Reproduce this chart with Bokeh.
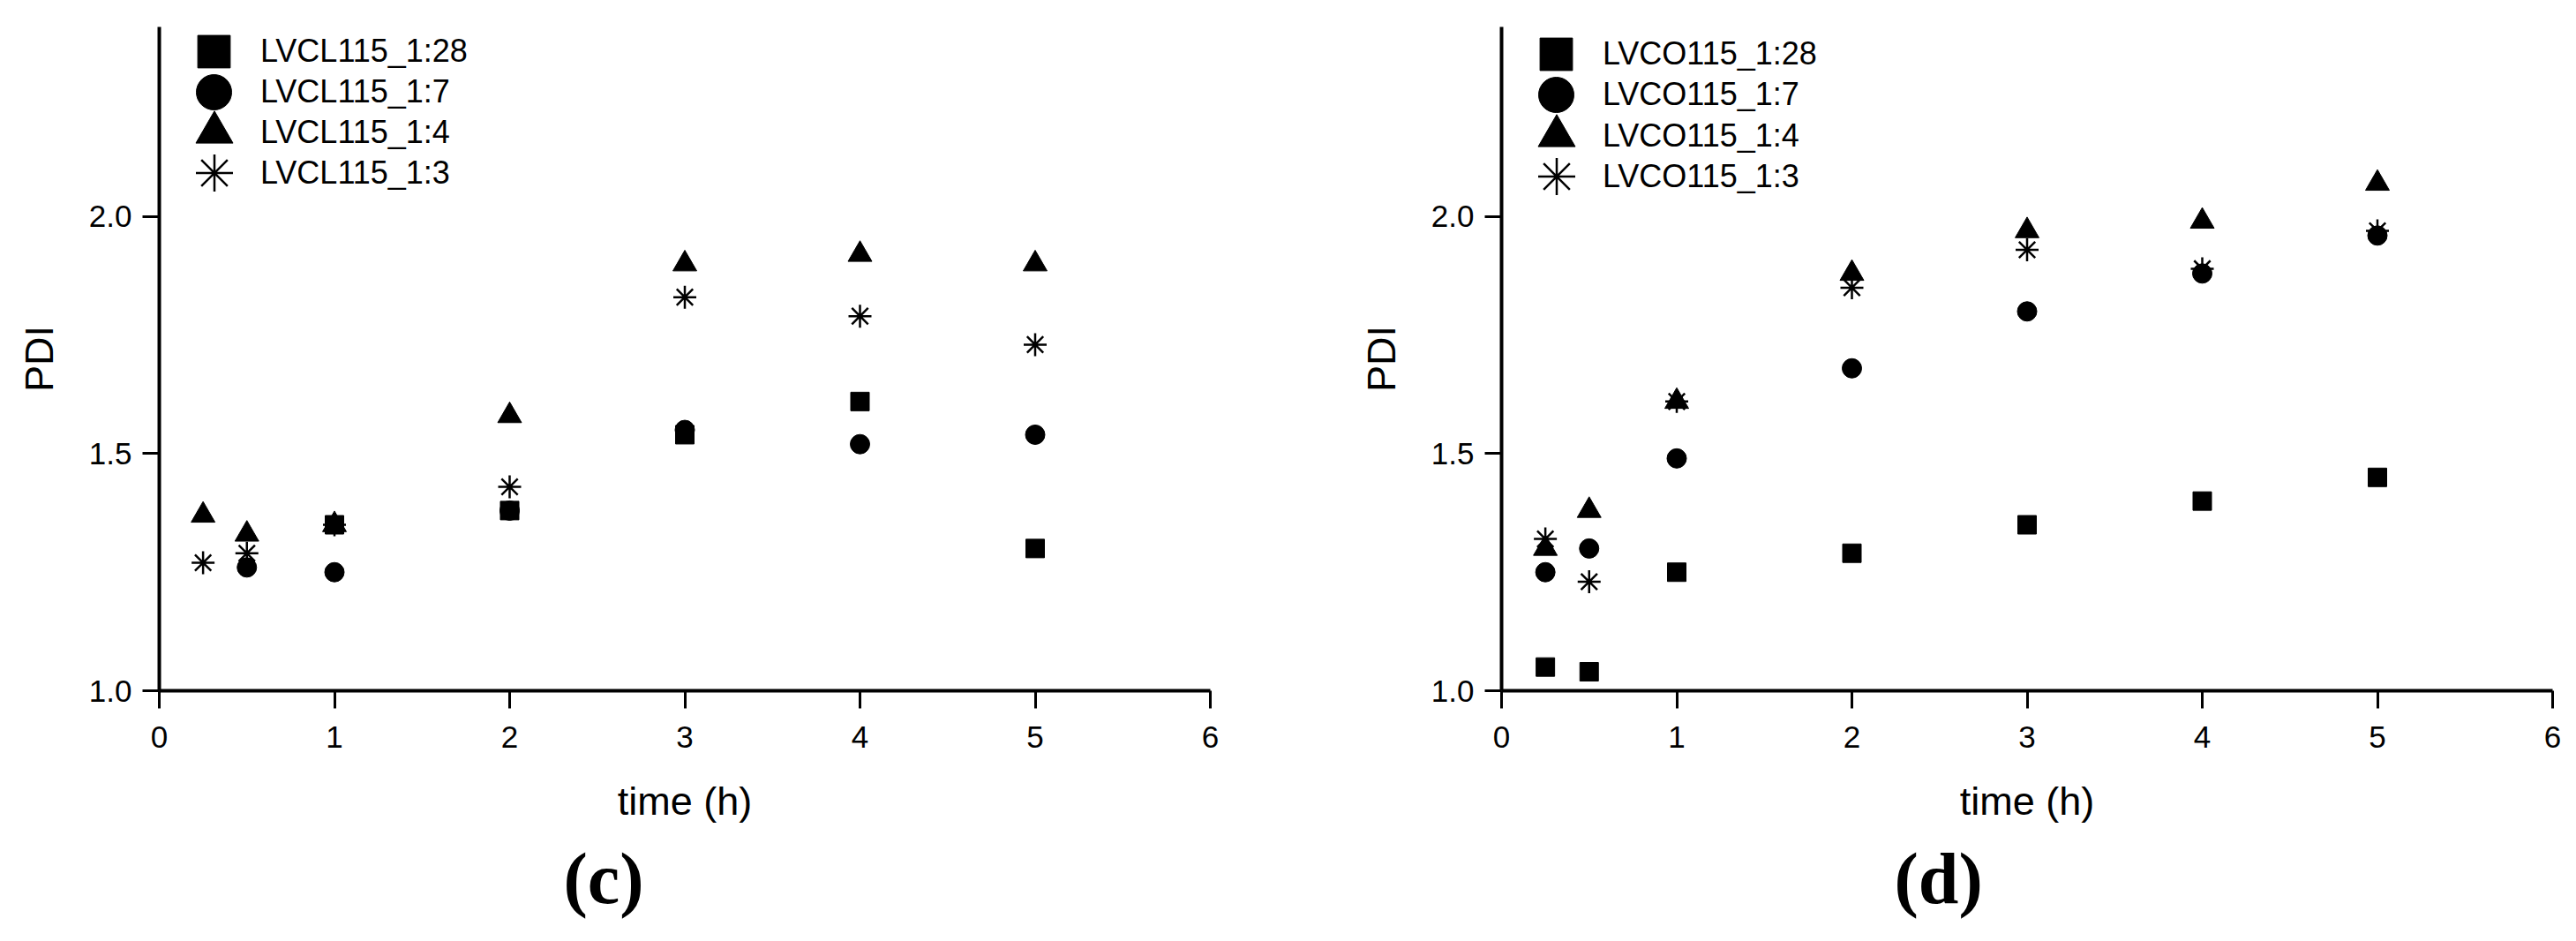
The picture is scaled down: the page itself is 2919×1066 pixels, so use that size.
from bokeh.plotting import figure
from bokeh.layouts import row
from bokeh.models import Range1d, FixedTicker, PrintfTickFormatter, Legend, LegendItem, Title
from bokeh.embed import file_html
from bokeh.resources import INLINE

nan = float("nan")

# ---- data ----
time_h = [0.25, 0.5, 1, 2, 3, 4, 5]
x_ticks = [0, 1, 2, 3, 4, 5, 6]
y_ticks = [1.0, 1.5, 2.0]

c_labels = ["LVCL115_1:28", "LVCL115_1:7", "LVCL115_1:4", "LVCL115_1:3"]
c_1_28 = [nan, nan, 1.35, 1.38, 1.54, 1.61, 1.30]
c_1_7 = [nan, 1.26, 1.25, 1.38, 1.55, 1.52, 1.54]
c_1_4 = [1.37, 1.33, 1.35, 1.58, 1.90, 1.92, 1.90]
c_1_3 = [1.27, 1.29, 1.35, 1.43, 1.83, 1.79, 1.73]

d_labels = ["LVCO115_1:28", "LVCO115_1:7", "LVCO115_1:4", "LVCO115_1:3"]
d_1_28 = [1.05, 1.04, 1.25, 1.29, 1.35, 1.40, 1.45]
d_1_7 = [1.25, 1.30, 1.49, 1.68, 1.80, 1.88, 1.96]
d_1_4 = [1.30, 1.38, 1.61, 1.88, 1.97, 1.99, 2.07]
d_1_3 = [1.32, 1.23, 1.61, 1.85, 1.93, 1.89, 1.97]

FONT = "Liberation Sans"
MARKERS = ["square", "circle", "triangle", "asterisk"]
SIZES = [21, 22, 27, 26]
LEGEND_SIZES = [37, 40, 42, 42]


def make_panel(series, labels, panel_text, width, height, b_left, b_right, b_top, b_bottom,
               first_row, title_offset):
    p = figure(width=width, height=height, output_backend="svg", toolbar_location=None,
               title=None, x_range=Range1d(0, 6), y_range=Range1d(1.0, 2.4),
               min_border_left=b_left, min_border_right=b_right,
               min_border_top=b_top, min_border_bottom=b_bottom)
    p.outline_line_color = None
    p.grid.visible = False
    p.background_fill_color = "white"
    p.border_fill_color = "white"

    frame_h = height - b_top - b_bottom
    for k, (vals, lab, mk, sz) in enumerate(zip(series, labels, MARKERS, SIZES)):
        if mk == "asterisk":
            r = p.scatter(time_h, vals, marker=mk, size=sz, line_color="black", line_width=2.5)
        else:
            r = p.scatter(time_h, vals, marker=mk, size=sz, fill_color="black",
                          line_color="black", line_width=1)
        box = LEGEND_SIZES[k] / 0.4
        cy = first_row + 46 * k
        leg = Legend(items=[LegendItem(label=lab, renderers=[r])],
                     location=(int(round(62 - box / 2)), int(round(frame_h - cy - box / 2))),
                     glyph_width=int(round(box)), glyph_height=int(round(box)),
                     padding=0, margin=0, spacing=0,
                     label_standoff=max(0, int(round(53 - box / 2))),
                     background_fill_alpha=0, border_line_alpha=0,
                     label_text_font=FONT, label_text_font_size="36px",
                     label_text_color="black")
        p.add_layout(leg)

    for ax in (p.xaxis[0], p.yaxis[0]):
        ax.axis_line_width = 4
        ax.axis_line_color = "black"
        ax.major_tick_line_width = 3
        ax.major_tick_line_color = "black"
        ax.major_tick_in = 0
        ax.minor_tick_line_color = None
        ax.major_label_text_font = FONT
        ax.major_label_text_font_size = "35px"
        ax.major_label_text_color = "black"
        ax.axis_label_text_font = FONT
        ax.axis_label_text_font_style = "normal"
        ax.axis_label_text_color = "black"
        ax.axis_label_text_font_size = "45px"

    p.xaxis.ticker = FixedTicker(ticks=x_ticks)
    p.xaxis.major_tick_out = 20
    p.xaxis.major_label_standoff = 20
    p.xaxis.axis_label = "time (h)"
    p.xaxis.axis_label_standoff = 32

    p.yaxis.ticker = FixedTicker(ticks=y_ticks)
    p.yaxis.formatter = PrintfTickFormatter(format="%.1f")
    p.yaxis.major_tick_out = 19
    p.yaxis.major_label_standoff = 12
    p.yaxis.axis_label = "PDI"
    p.yaxis.axis_label_standoff = 28

    t = Title(text=panel_text, align="left", offset=title_offset,
              text_font="Liberation Serif", text_font_size="82px",
              text_font_style="bold", text_color="black")
    if "standoff" in Title.properties():
        t.standoff = 24
    p.add_layout(t, "below")
    return p


p1 = make_panel([c_1_28, c_1_7, c_1_4, c_1_3], c_labels, "(c)", 1460, 1058,
                180, 89, 27, 276, 31, 458)
p2 = make_panel([d_1_28, d_1_7, d_1_4, d_1_3], d_labels, "(d)", 1451, 1058,
                241, 19, 30, 274, 33, 445)

layout = row(p1, p2)
open("out.html", "w").write(file_html(layout, INLINE))
